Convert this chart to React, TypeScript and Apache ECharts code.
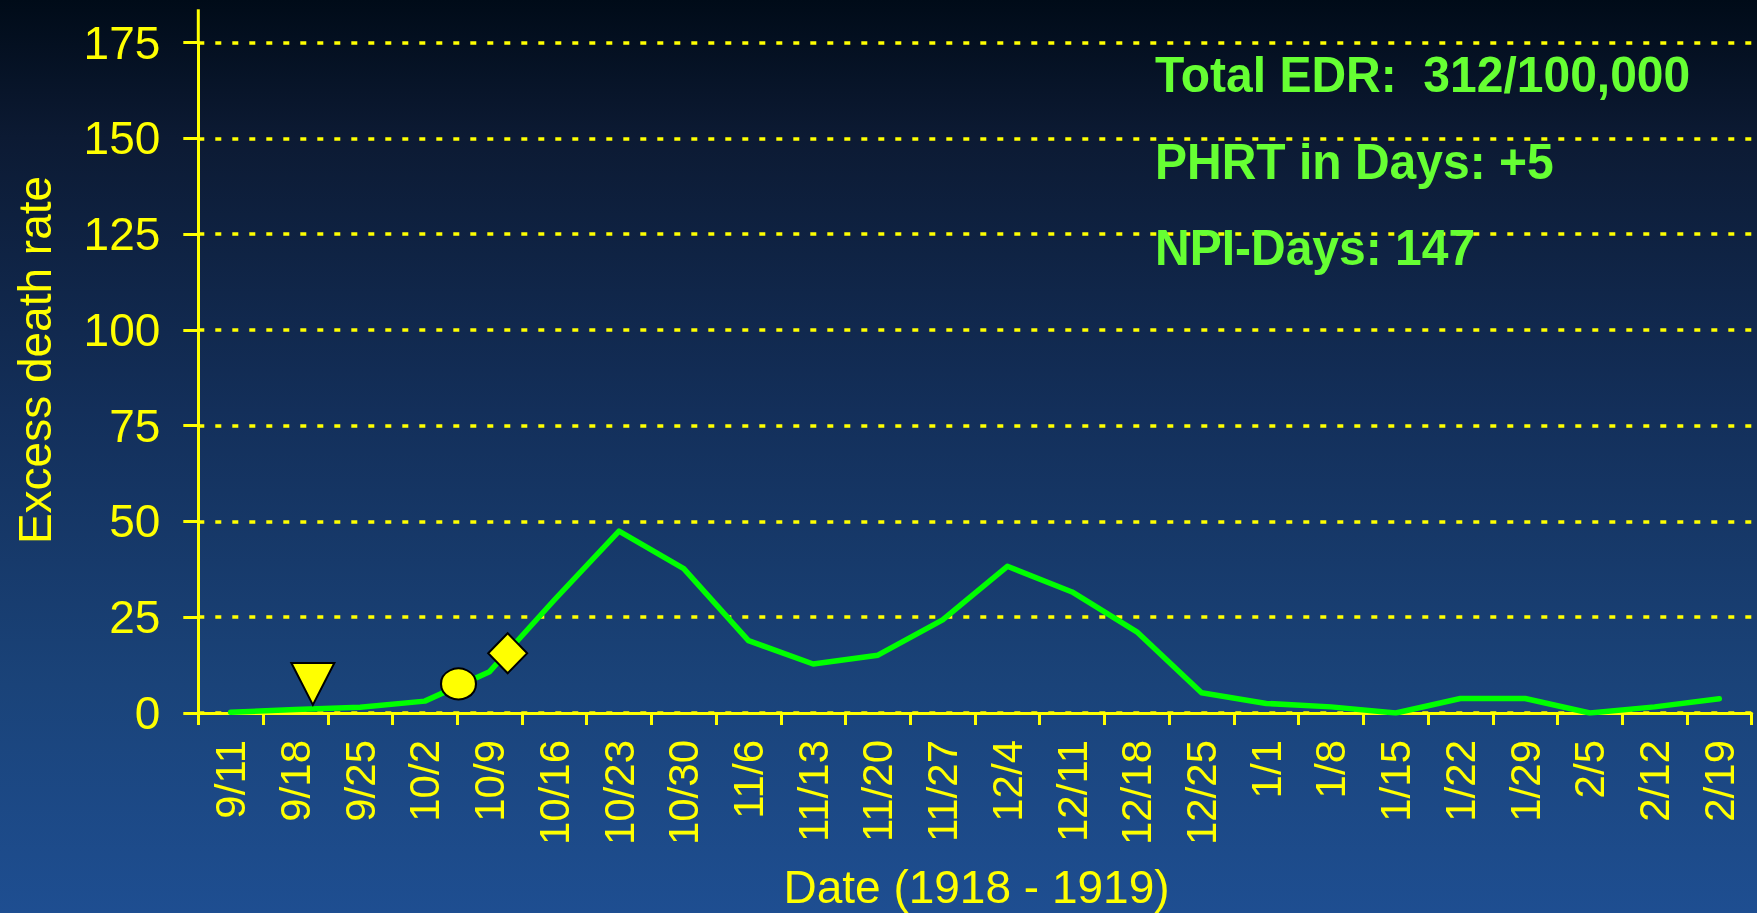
import React, { useEffect, useRef } from "react";
import * as echarts from "echarts";

const categories = ["9/11","9/18","9/25","10/2","10/9","10/16","10/23","10/30","11/6","11/13","11/20","11/27","12/4","12/11","12/18","12/25","1/1","1/8","1/15","1/22","1/29","2/5","2/12","2/19"];
const excessDeathRate = [0.2, 0.9, 1.5, 3.1, 10.8, 29.5, 47.5, 37.7, 18.9, 12.8, 15.1, 24.3, 38.3, 31.6, 21.2, 5.3, 2.5, 1.6, 0, 3.8, 3.8, 0, 1.6, 3.7];
const yTicks = { min: 0, max: 175, interval: 25 };
// event markers: [fractional week index, value]
const triangleMarker = [[1.27, 7.6]];
const circleMarker = [[3.52, 7.6]];
const diamondMarker = [[4.28, 15.6]];
const statLines = ["Total EDR:  312/100,000", "PHRT in Days: +5", "NPI-Days: 147"];
const xAxisTitle = "Date (1918 - 1919)";
const yAxisTitle = "Excess death rate";

const FONT = "'Liberation Sans', Arial, Helvetica, sans-serif";
const YELLOW = "#ffff00";

export default function App() {
  const ref = useRef<HTMLDivElement>(null);
  useEffect(() => {
    if (!ref.current) return;
    const chart = echarts.init(ref.current, null, { renderer: "svg" });
    const gridLeft = 198.3;
    const gridTop = 42.7;
    const gridBottomY = 713;
    const markerStyle = { color: YELLOW, borderColor: "#000000", borderWidth: 2, opacity: 1 };
    chart.setOption({
      animation: false,
      grid: { left: gridLeft, right: 5.3, top: gridTop, bottom: 913 - gridBottomY, containLabel: false },
      xAxis: [
        {
          type: "category",
          data: categories,
          boundaryGap: true,
          axisLine: { onZero: false, lineStyle: { color: YELLOW, width: 3 } },
          axisTick: { show: true, length: 12, lineStyle: { color: YELLOW, width: 3 }, alignWithLabel: false },
          axisLabel: {
            interval: 0,
            rotate: 90,
            margin: 27,
            color: YELLOW,
            fontSize: 42,
            fontFamily: FONT,
          },
          splitLine: { show: false },
        },
        { type: "value", min: -0.5, max: 23.5, show: false },
      ],
      yAxis: {
        type: "value",
        min: yTicks.min,
        max: yTicks.max,
        interval: yTicks.interval,
        axisLine: { show: true, onZero: false, lineStyle: { color: YELLOW, width: 3 } },
        axisTick: { show: true, length: 15, lineStyle: { color: YELLOW, width: 3 } },
        axisLabel: { color: YELLOW, fontSize: 46, fontFamily: FONT, margin: 38 },
        splitLine: { show: true, lineStyle: { color: YELLOW, width: 3.5, type: [6, 11] } },
      },
      series: [
        {
          type: "line",
          data: excessDeathRate,
          symbol: "none",
          lineStyle: { color: "#00ff00", width: 5.5, cap: "round", join: "round" },
          z: 3,
        },
        {
          type: "scatter",
          xAxisIndex: 1,
          data: triangleMarker,
          symbol: "triangle",
          symbolRotate: 180,
          symbolSize: [43, 42],
          itemStyle: markerStyle,
          z: 4,
        },
        {
          type: "scatter",
          xAxisIndex: 1,
          data: circleMarker,
          symbol: "circle",
          symbolSize: [35, 31],
          itemStyle: markerStyle,
          z: 4,
        },
        {
          type: "scatter",
          xAxisIndex: 1,
          data: diamondMarker,
          symbol: "diamond",
          symbolSize: [39, 40],
          itemStyle: markerStyle,
          z: 4,
        },
      ],
      graphic: [
        {
          type: "rect",
          z: -100,
          silent: true,
          shape: { x: 0, y: 0, width: 1757, height: 913 },
          style: {
            fill: new echarts.graphic.LinearGradient(0, 0, 0, 1, [
              { offset: 0, color: "#000b18" },
              { offset: 0.15, color: "#0c1a33" },
              { offset: 0.45, color: "#132f5a" },
              { offset: 0.75, color: "#1a4379" },
              { offset: 1, color: "#1e4e91" },
            ]),
          },
        },
        {
          type: "line",
          z: 5,
          silent: true,
          shape: { x1: gridLeft, y1: 9.3, x2: gridLeft, y2: gridTop },
          style: { stroke: YELLOW, lineWidth: 3 },
        },
        {
          type: "text",
          z: 5,
          x: 35,
          y: 360,
          rotation: Math.PI / 2,
          style: {
            text: yAxisTitle,
            fill: YELLOW,
            font: `46px ${FONT}`,
            textAlign: "center",
            textVerticalAlign: "middle",
          },
        },
        {
          type: "text",
          z: 5,
          x: 976.5,
          y: 887,
          style: {
            text: xAxisTitle,
            fill: YELLOW,
            font: `46px ${FONT}`,
            textAlign: "center",
            textVerticalAlign: "middle",
          },
        },
        ...statLines.map((t, i) => ({
          type: "text",
          z: 5,
          x: 1155,
          y: 74.6 + i * 86.7,
          scaleX: 0.96,
          style: {
            text: t,
            fill: "#66ff33",
            font: `bold 50px ${FONT}`,
            textAlign: "left",
            textVerticalAlign: "middle",
          },
        })),
      ],
    });
    return () => chart.dispose();
  }, []);
  return (
    <div
      ref={ref}
      style={{ position: "fixed", left: 0, top: 0, width: "1757px", height: "913px" }}
    />
  );
}
